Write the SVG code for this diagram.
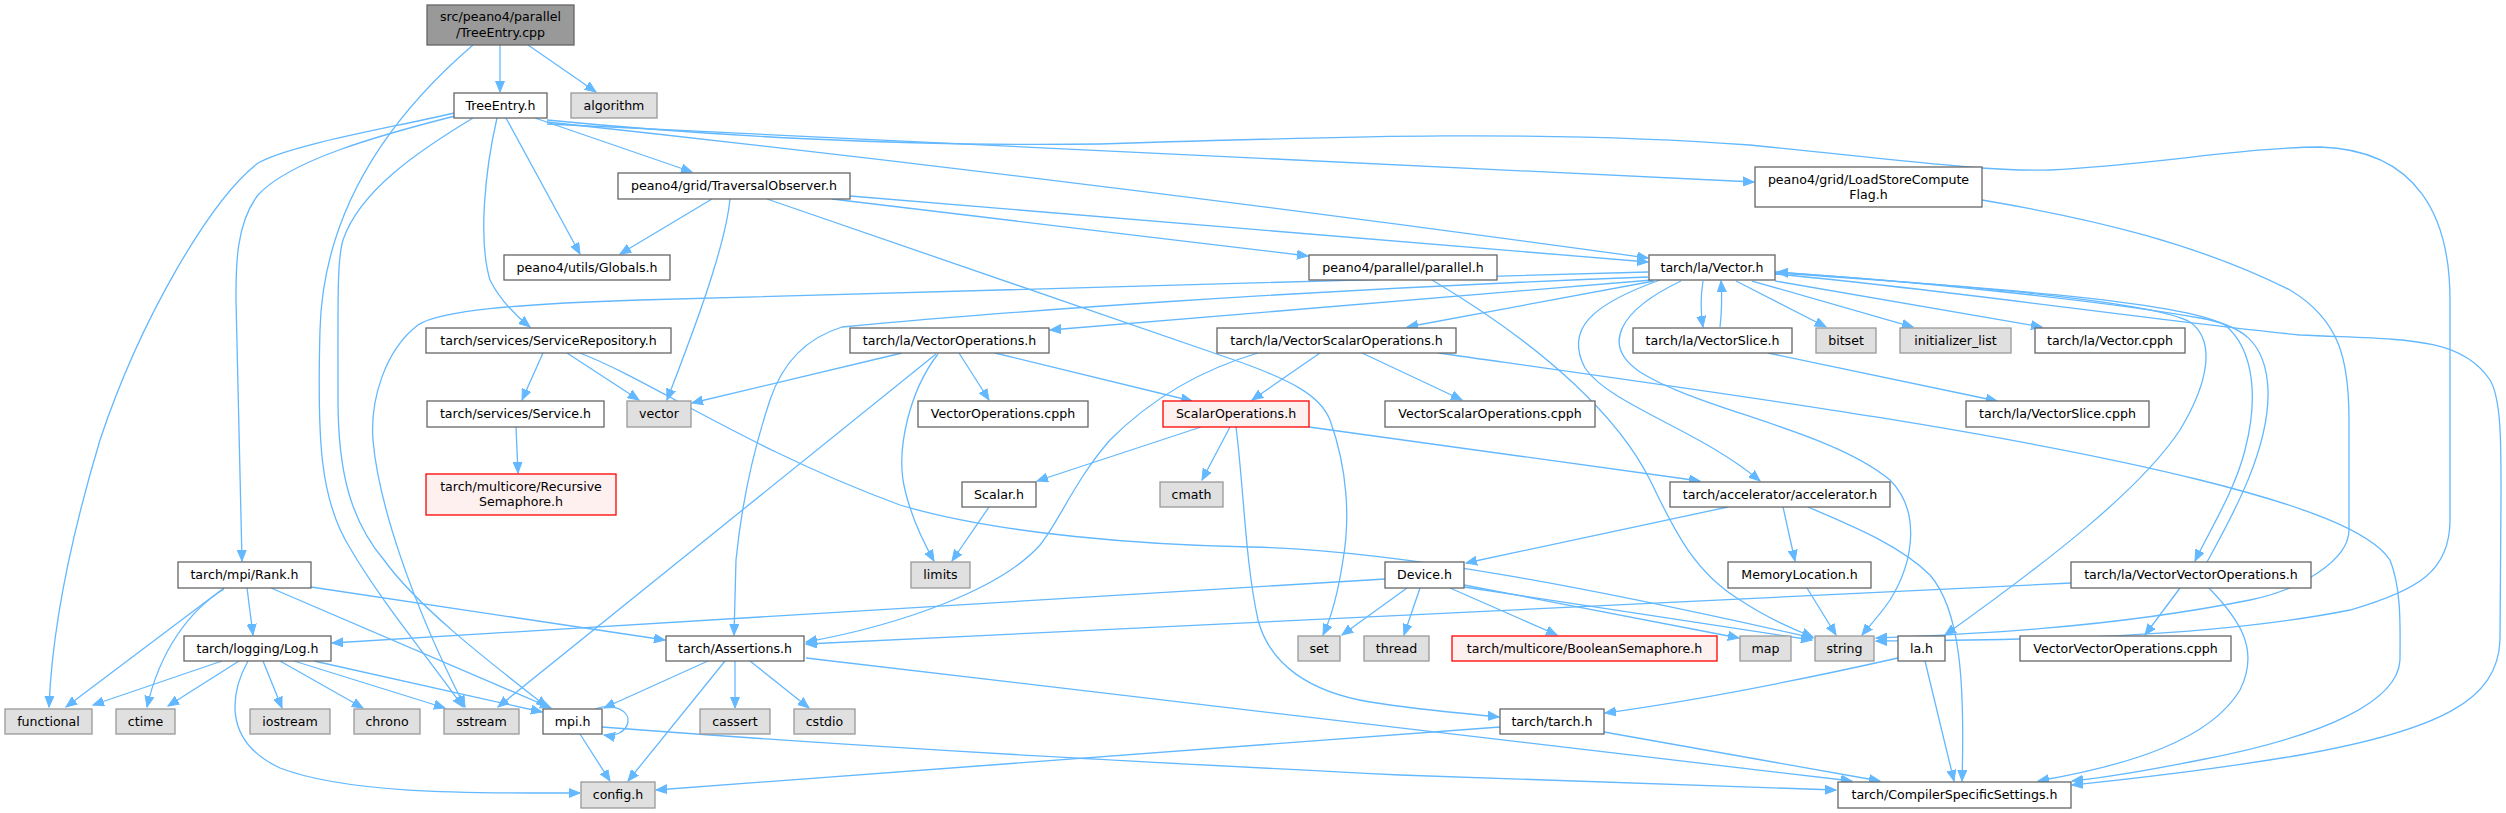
<svg xmlns="http://www.w3.org/2000/svg" width="2506" height="813" viewBox="0 0 2506 813">
<style>
rect{stroke-width:1.3}
.n rect{fill:#fff;stroke:#666}
.g rect{fill:#e0e0e0;stroke:#999}
.r rect{fill:#fff0f0;stroke:#f00}
.s rect{fill:#999;stroke:#666}
text{font-family:"DejaVu Sans","Liberation Sans",sans-serif;font-size:12.6px;text-anchor:middle;fill:#000}
.e path{fill:none;stroke:#63b8ff;stroke-width:1.3;marker-end:url(#a)}
</style>
<defs>
<marker id="a" markerWidth="12" markerHeight="10" refX="11" refY="5" orient="auto" markerUnits="userSpaceOnUse">
<path d="M0,0.5 L11,5 L0,9.5 z" fill="#63b8ff" stroke="#63b8ff" stroke-width="1"/>
</marker>
</defs>
<rect width="2506" height="813" fill="#fff"/>
<g id="edges" class="e">
<path d="M500,45 L500,92"/>
<path d="M528,45 L596,92"/>
<path d="M473,45 C380,125 323,220 320,330 C317,440 320,500 350,548 C380,600 430,660 463,707"/>
<path d="M454,113 C380,130 290,145 258,163 C210,200 140,320 100,440 C70,540 52,630 49,707"/>
<path d="M455,116 C380,135 290,160 258,195 C235,225 236,270 236,300 L242,561"/>
<path d="M473,118 C420,150 360,190 343,240 C337,260 338,300 338,400 C338,470 350,520 384,560 C420,610 500,670 547,707"/>
<path d="M497,118 C485,170 478,240 490,280 C500,300 515,315 530,327"/>
<path d="M506,118 L580,254"/>
<path d="M535,118 L692,172"/>
<path d="M547,120 C700,135 900,147 1100,144 C1350,136 1550,130 1750,145 C1900,160 1990,172 2050,170 C2150,165 2250,147 2320,147 C2420,150 2450,220 2450,300 L2450,520 C2450,570 2420,590 2350,610 C2200,640 2000,640 1876,641"/>
<path d="M547,124 L1754,182"/>
<path d="M547,122 C900,160 1300,210 1648,258"/>
<path d="M712,199 L620,254"/>
<path d="M730,199 C725,250 690,340 667,400"/>
<path d="M767,199 L1240,362 C1290,380 1320,395 1330,420 C1348,470 1350,520 1343,560 C1337,600 1330,620 1323,635"/>
<path d="M832,199 L1308,256"/>
<path d="M850,196 L1648,262"/>
<path d="M1982,200 C2100,220 2200,245 2290,290 C2340,320 2349,360 2349,420 L2349,530 C2349,560 2300,590 2250,600 C2100,630 1950,635 1876,638"/>
<path d="M1432,280 C1550,350 1620,420 1650,480 C1670,520 1690,570 1740,600 C1770,620 1795,630 1813,637"/>
<path d="M580,353 C650,380 750,450 900,505 C1000,535 1150,545 1250,547 C1400,550 1600,590 1813,638"/>
<path d="M543,353 L522,400"/>
<path d="M567,353 L639,400"/>
<path d="M516,427 L518,473"/>
<path d="M1648,272 C1300,282 900,292 640,300 C520,304 440,310 418,325 C385,350 370,400 373,440 C378,500 410,600 465,707"/>
<path d="M1648,277 C1300,290 1000,312 842,327 C800,340 780,370 770,400 C750,460 740,520 736,560 L734,635"/>
<path d="M1652,280 L1050,330"/>
<path d="M1654,281 L1407,327"/>
<path d="M1660,280 C1590,305 1565,330 1585,368 C1610,405 1700,430 1760,481"/>
<path d="M1681,281 C1620,310 1600,345 1640,372 C1700,410 1830,430 1890,480 C1920,510 1915,560 1890,600 C1880,615 1870,625 1862,635"/>
<path d="M1703,281 C1700,300 1701,315 1703,327"/>
<path d="M1720,327 C1722,310 1722,295 1721,281"/>
<path d="M1736,281 L1826,327"/>
<path d="M1752,281 L1913,327"/>
<path d="M1775,281 L2042,327"/>
<path d="M1768,353 L1997,401"/>
<path d="M1775,272 C1950,285 2150,300 2190,322 C2215,340 2210,380 2180,430 C2140,490 2050,560 1945,635"/>
<path d="M1775,273 C1950,285 2180,300 2225,325 C2255,350 2258,400 2245,450 C2235,490 2210,530 2195,561"/>
<path d="M2207,562 C2230,520 2270,450 2268,390 C2266,340 2240,325 2200,318 C2100,300 1900,280 1777,272"/>
<path d="M1775,274 C1950,290 2150,320 2300,335 C2400,340 2460,335 2490,380 C2502,400 2501,450 2501,500 L2500,640 C2498,700 2440,730 2300,755 C2200,772 2120,780 2072,785"/>
<path d="M1438,353 C1700,390 2000,430 2200,480 C2300,505 2370,530 2390,560 C2402,590 2400,630 2400,660 C2398,700 2330,735 2200,760 C2140,772 2100,778 2072,781"/>
<path d="M1320,353 L1252,400"/>
<path d="M1362,353 L1462,400"/>
<path d="M1258,353 C1200,370 1150,400 1110,440 C1075,480 1060,520 1040,545 C1000,590 900,625 806,642"/>
<path d="M902,353 L692,403"/>
<path d="M936,354 L498,707"/>
<path d="M938,354 C910,390 895,450 905,490 C912,520 925,545 934,561"/>
<path d="M959,353 L989,400"/>
<path d="M995,353 L1192,401"/>
<path d="M1201,427 L1037,481"/>
<path d="M1230,427 L1202,480"/>
<path d="M1309,427 L1700,481"/>
<path d="M1236,427 C1244,490 1245,560 1258,620 C1270,665 1310,692 1370,702 C1420,710 1470,714 1499,717"/>
<path d="M989,507 L952,561"/>
<path d="M1728,507 L1466,563"/>
<path d="M1783,507 L1795,561"/>
<path d="M1808,507 C1850,525 1900,545 1930,575 C1960,610 1965,680 1962,781"/>
<path d="M1385,579 L332,643"/>
<path d="M1407,588 L1342,635"/>
<path d="M1420,588 L1404,635"/>
<path d="M1450,588 L1557,635"/>
<path d="M1464,585 L1739,638"/>
<path d="M1464,587 L1812,640"/>
<path d="M1807,588 L1836,635"/>
<path d="M1925,661 L1954,781"/>
<path d="M1898,658 C1800,680 1700,700 1605,713"/>
<path d="M1604,732 L1880,781"/>
<path d="M1500,727 L656,790"/>
<path d="M806,658 L1852,781"/>
<path d="M602,727 C900,750 1200,765 1400,775 C1600,783 1750,788 1836,790"/>
<path d="M725,661 L628,781"/>
<path d="M708,661 L604,708"/>
<path d="M735,661 L735,708"/>
<path d="M750,661 L809,708"/>
<path d="M595,709 C615,702 630,712 628,722 C626,732 615,737 604,735"/>
<path d="M580,734 L610,781"/>
<path d="M222,661 L93,705"/>
<path d="M239,661 L168,706"/>
<path d="M248,661 C232,690 220,740 280,768 C350,795 480,793 580,793"/>
<path d="M263,661 L282,708"/>
<path d="M280,661 L363,708"/>
<path d="M294,661 L445,708"/>
<path d="M314,661 L542,712"/>
<path d="M224,588 L66,707"/>
<path d="M224,589 C190,610 160,650 147,707"/>
<path d="M247,588 L253,635"/>
<path d="M271,588 L551,708"/>
<path d="M311,587 L665,640"/>
<path d="M2180,588 L2145,635"/>
<path d="M2209,588 C2240,620 2260,650 2240,690 C2210,740 2130,765 2038,781"/>
<path d="M2071,583 L806,644"/>
</g>
<g id="n_cpp" class="s"><rect x="427" y="5" width="147" height="40"/><text x="500.5" y="21">src/peano4/parallel</text><text x="500.5" y="37">/TreeEntry.cpp</text></g>
<g id="n_treeentry" class="n"><rect x="454" y="93" width="93" height="25"/><text x="500.5" y="110">TreeEntry.h</text></g>
<g id="n_algorithm" class="g"><rect x="571" y="93" width="86" height="25"/><text x="614" y="110">algorithm</text></g>
<g id="n_globals" class="n"><rect x="504" y="255" width="166" height="25"/><text x="587" y="272">peano4/utils/Globals.h</text></g>
<g id="n_traversal" class="n"><rect x="618" y="173" width="232" height="26"/><text x="734" y="190">peano4/grid/TraversalObserver.h</text></g>
<g id="n_loadstore" class="n"><rect x="1755" y="167" width="227" height="40"/><text x="1868.5" y="184">peano4/grid/LoadStoreCompute</text><text x="1868.5" y="199">Flag.h</text></g>
<g id="n_parallel" class="n"><rect x="1309" y="255" width="188" height="25"/><text x="1403" y="272">peano4/parallel/parallel.h</text></g>
<g id="n_vector_h" class="n"><rect x="1649" y="255" width="126" height="25"/><text x="1712" y="272">tarch/la/Vector.h</text></g>
<g id="n_servicerepo" class="n"><rect x="426" y="328" width="245" height="25"/><text x="548.5" y="345">tarch/services/ServiceRepository.h</text></g>
<g id="n_service" class="n"><rect x="427" y="401" width="177" height="26"/><text x="515.5" y="418">tarch/services/Service.h</text></g>
<g id="n_vector" class="g"><rect x="627" y="401" width="64" height="26"/><text x="659" y="418">vector</text></g>
<g id="n_recursive" class="r"><rect x="426" y="474" width="190" height="41"/><text x="521" y="491">tarch/multicore/Recursive</text><text x="521" y="506">Semaphore.h</text></g>
<g id="n_vectorops" class="n"><rect x="850" y="328" width="199" height="25"/><text x="949.5" y="345">tarch/la/VectorOperations.h</text></g>
<g id="n_vectorops_cpph" class="n"><rect x="918" y="401" width="170" height="26"/><text x="1003" y="418">VectorOperations.cpph</text></g>
<g id="n_scalarops" class="r"><rect x="1163" y="401" width="146" height="26"/><text x="1236" y="418">ScalarOperations.h</text></g>
<g id="n_scalar" class="n"><rect x="962" y="482" width="74" height="25"/><text x="999" y="499">Scalar.h</text></g>
<g id="n_cmath" class="g"><rect x="1160" y="482" width="63" height="25"/><text x="1191.5" y="499">cmath</text></g>
<g id="n_vso" class="n"><rect x="1217" y="328" width="239" height="25"/><text x="1336.5" y="345">tarch/la/VectorScalarOperations.h</text></g>
<g id="n_vso_cpph" class="n"><rect x="1385" y="401" width="210" height="26"/><text x="1490" y="418">VectorScalarOperations.cpph</text></g>
<g id="n_vectorslice" class="n"><rect x="1633" y="328" width="159" height="25"/><text x="1712.5" y="345">tarch/la/VectorSlice.h</text></g>
<g id="n_bitset" class="g"><rect x="1816" y="328" width="60" height="25"/><text x="1846" y="345">bitset</text></g>
<g id="n_accelerator" class="n"><rect x="1670" y="482" width="220" height="25"/><text x="1780" y="499">tarch/accelerator/accelerator.h</text></g>
<g id="n_initlist" class="g"><rect x="1900" y="328" width="111" height="25"/><text x="1955.5" y="345">initializer_list</text></g>
<g id="n_vector_cpph" class="n"><rect x="2035" y="328" width="150" height="25"/><text x="2110" y="345">tarch/la/Vector.cpph</text></g>
<g id="n_vectorslice_cpph" class="n"><rect x="1966" y="401" width="183" height="26"/><text x="2057.5" y="418">tarch/la/VectorSlice.cpph</text></g>
<g id="n_rank" class="n"><rect x="178" y="562" width="133" height="26"/><text x="244.5" y="579">tarch/mpi/Rank.h</text></g>
<g id="n_log" class="n"><rect x="184" y="636" width="147" height="25"/><text x="257.5" y="653">tarch/logging/Log.h</text></g>
<g id="n_functional" class="g"><rect x="5" y="709" width="87" height="25"/><text x="48.5" y="726">functional</text></g>
<g id="n_ctime" class="g"><rect x="116" y="709" width="59" height="25"/><text x="145.5" y="726">ctime</text></g>
<g id="n_iostream" class="g"><rect x="250" y="709" width="80" height="25"/><text x="290" y="726">iostream</text></g>
<g id="n_chrono" class="g"><rect x="354" y="709" width="66" height="25"/><text x="387" y="726">chrono</text></g>
<g id="n_sstream" class="g"><rect x="444" y="709" width="75" height="25"/><text x="481.5" y="726">sstream</text></g>
<g id="n_mpi" class="n"><rect x="543" y="709" width="59" height="25"/><text x="572.5" y="726">mpi.h</text></g>
<g id="n_config" class="g"><rect x="581" y="782" width="74" height="26"/><text x="618" y="799">config.h</text></g>
<g id="n_assertions" class="n"><rect x="666" y="636" width="138" height="25"/><text x="735" y="653">tarch/Assertions.h</text></g>
<g id="n_limits" class="g"><rect x="911" y="562" width="59" height="26"/><text x="940.5" y="579">limits</text></g>
<g id="n_cassert" class="g"><rect x="700" y="709" width="70" height="25"/><text x="735" y="726">cassert</text></g>
<g id="n_cstdio" class="g"><rect x="794" y="709" width="61" height="25"/><text x="824.5" y="726">cstdio</text></g>
<g id="n_device" class="n"><rect x="1385" y="562" width="79" height="26"/><text x="1424.5" y="579">Device.h</text></g>
<g id="n_memloc" class="n"><rect x="1728" y="562" width="143" height="26"/><text x="1799.5" y="579">MemoryLocation.h</text></g>
<g id="n_set" class="g"><rect x="1298" y="636" width="42" height="25"/><text x="1319" y="653">set</text></g>
<g id="n_thread" class="g"><rect x="1364" y="636" width="65" height="25"/><text x="1396.5" y="653">thread</text></g>
<g id="n_boolsem" class="r"><rect x="1452" y="636" width="265" height="25"/><text x="1584.5" y="653">tarch/multicore/BooleanSemaphore.h</text></g>
<g id="n_map" class="g"><rect x="1740" y="636" width="51" height="25"/><text x="1765.5" y="653">map</text></g>
<g id="n_string" class="g"><rect x="1815" y="636" width="59" height="25"/><text x="1844.5" y="653">string</text></g>
<g id="n_tarch" class="n"><rect x="1500" y="709" width="104" height="25"/><text x="1552" y="726">tarch/tarch.h</text></g>
<g id="n_css" class="n"><rect x="1838" y="782" width="233" height="26"/><text x="1954.5" y="799">tarch/CompilerSpecificSettings.h</text></g>
<g id="n_vvo" class="n"><rect x="2071" y="562" width="240" height="26"/><text x="2191" y="579">tarch/la/VectorVectorOperations.h</text></g>
<g id="n_la" class="n"><rect x="1898" y="636" width="47" height="25"/><text x="1921.5" y="653">la.h</text></g>
<g id="n_vvo_cpph" class="n"><rect x="2020" y="636" width="211" height="25"/><text x="2125.5" y="653">VectorVectorOperations.cpph</text></g>
</svg>
